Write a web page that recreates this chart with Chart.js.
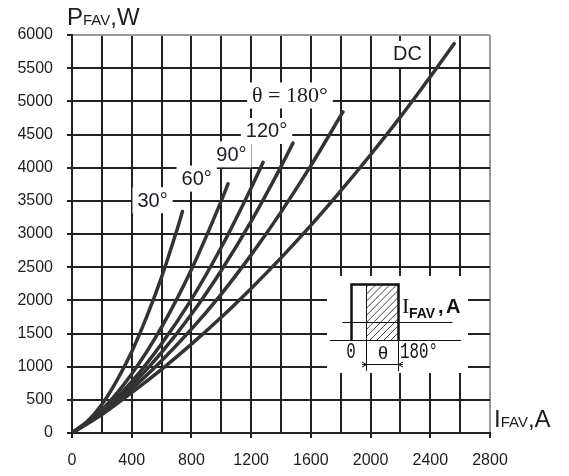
<!DOCTYPE html>
<html>
<head>
<meta charset="utf-8">
<script src="https://cdn.jsdelivr.net/npm/chart.js@4.4.1/dist/chart.umd.min.js"></script>
<style>
  html, body { margin: 0; padding: 0; background: #fff; }
  canvas { display: block; }
</style>
</head>
<body>
<canvas id="chart" width="569" height="476"></canvas>
<script>
// average current I_FAV (A) and power loss P_FAV (W)
const currentDC = [0, 200, 400, 600, 800, 1000, 1200, 1400, 1600, 1800, 2000, 2200, 2400, 2560];
const powerDC = [0, 280, 610, 960, 1340, 1745, 2180, 2640, 3130, 3650, 4195, 4765, 5370, 5870];

const current180 = [0, 200, 400, 600, 800, 1000, 1200, 1400, 1600, 1815];
const power180 = [0, 295, 665, 1090, 1565, 2095, 2685, 3330, 4030, 4840];

const current120 = [0, 200, 400, 600, 800, 1000, 1200, 1400, 1480];
const power120 = [0, 310, 720, 1215, 1790, 2450, 3190, 4015, 4370];

const current90 = [0, 200, 400, 600, 800, 1000, 1200, 1280];
const power90 = [0, 325, 775, 1345, 2015, 2800, 3695, 4080];

const current60 = [0, 200, 400, 600, 800, 1000, 1045];
const power60 = [0, 350, 890, 1595, 2465, 3500, 3755];

const current30 = [0, 100, 200, 300, 400, 500, 600, 700, 740];
const power30 = [0, 170, 430, 790, 1225, 1750, 2350, 3040, 3340];

const curveLabels = ['30°', '60°', '90°', '120°', 'θ = 180°', 'DC'];

const xTicks = [0, 400, 800, 1200, 1600, 2000, 2400, 2800];
const yTicks = [0, 500, 1000, 1500, 2000, 2500, 3000, 3500, 4000, 4500, 5000, 5500, 6000];

const LINE = '#333333';
const GRID = '#222222';
const EDGE = '#9a9a9a';
const TEXT = '#1c1c24';
const SANS = "'Liberation Sans', Arial, sans-serif";
const SERIF = "'Liberation Serif', 'Times New Roman', serif";
const MONO = "'Liberation Mono', 'Courier New', monospace";

const toPoints = (xs, ys) => xs.map((x, i) => ({ x, y: ys[i] }));

const series = [
    toPoints(current30, power30),
    toPoints(current60, power60),
    toPoints(current90, power90),
    toPoints(current120, power120),
    toPoints(current180, power180),
    toPoints(currentDC, powerDC),
];

// texte avec fond blanc (étiquettes des courbes)
const drawBoxedLabel = (ctx, text, cx, cy, font) => {
    ctx.font = font;
    const w = ctx.measureText(text).width;
    ctx.fillStyle = '#fff';
    ctx.fillRect(cx - w / 2 - 5, cy - 13, w + 10, 26);
    ctx.fillStyle = TEXT;
    ctx.textAlign = 'center';
    ctx.textBaseline = 'middle';
    ctx.fillText(text, cx, cy + 1);
};

// suite de morceaux de texte de tailles différentes (ex. P + FAV + ,W)
const drawRuns = (ctx, x, y, runs) => {
    ctx.textAlign = 'left';
    ctx.textBaseline = 'alphabetic';
    ctx.fillStyle = TEXT;
    runs.forEach(([text, font]) => {
        ctx.font = font;
        ctx.fillText(text, x, y);
        x += ctx.measureText(text).width;
    });
};

// petit schéma de l'impulsion rectangulaire
const drawInset = (ctx) => {
    ctx.save();
    ctx.fillStyle = '#fff';
    ctx.fillRect(327, 276, 141, 97);

    ctx.strokeStyle = '#111';
    ctx.lineWidth = 1;
    ctx.beginPath();
    ctx.moveTo(342.5, 322.5); ctx.lineTo(452.5, 322.5);
    ctx.moveTo(330, 340.5); ctx.lineTo(461, 340.5);
    ctx.moveTo(366.5, 284); ctx.lineTo(366.5, 371);
    ctx.moveTo(398.5, 340); ctx.lineTo(398.5, 371);
    ctx.moveTo(362, 364.5); ctx.lineTo(403, 364.5);
    ctx.stroke();

    // flèches de cote
    ctx.beginPath();
    ctx.moveTo(362, 362); ctx.lineTo(366.5, 364.5); ctx.lineTo(362, 367);
    ctx.moveTo(403, 362); ctx.lineTo(398.5, 364.5); ctx.lineTo(403, 367);
    ctx.stroke();

    // hachures
    ctx.save();
    ctx.beginPath();
    ctx.rect(366.5, 284, 32, 56.5);
    ctx.clip();
    ctx.lineWidth = 0.8;
    ctx.beginPath();
    for (let k = -60; k < 40; k += 7) {
        ctx.moveTo(366.5 + k, 340.5);
        ctx.lineTo(366.5 + k + 56, 284);
    }
    ctx.stroke();
    ctx.restore();

    ctx.lineWidth = 2.5;
    ctx.beginPath();
    ctx.moveTo(351.5, 340.5);
    ctx.lineTo(351.5, 284.5);
    ctx.lineTo(398.5, 284.5);
    ctx.lineTo(398.5, 340.5);
    ctx.stroke();

    ctx.fillStyle = '#111';
    ctx.textBaseline = 'alphabetic';
    ctx.textAlign = 'center';
    ctx.save();
    ctx.translate(351, 358);
    ctx.scale(0.72, 1);
    ctx.font = `22px ${MONO}`;
    ctx.fillText('0', 0, 0);
    ctx.restore();
    ctx.font = `18px ${SANS}`;
    ctx.fillText('θ', 383, 359);
    ctx.save();
    ctx.translate(400, 358);
    ctx.scale(0.72, 1);
    ctx.textAlign = 'left';
    ctx.font = `22px ${MONO}`;
    ctx.fillText('180°', 0, 0);
    ctx.restore();

    ctx.textAlign = 'left';
    ctx.font = `22px ${SERIF}`;
    ctx.fillText('I', 402, 313);
    ctx.font = `bold 14px ${SANS}`;
    ctx.fillText('FAV', 409, 318);
    ctx.font = `bold 20px ${SANS}`;
    ctx.fillText(',', 438, 313);
    ctx.fillText('A', 446, 313);
    ctx.restore();
};

const annotations = {
    id: 'annotations',
    beforeDatasetsDraw(chart) {
        const { ctx, scales: { x, y } } = chart;
        const anchors = [[540, 3510], [835, 3835], [1068, 4200], [1303, 4553], [1460, 5088], [2247, 5715]];
        ctx.save();
        curveLabels.forEach((text, i) => {
            const font = text.startsWith('θ') ? `22px ${SERIF}` : `20px ${SANS}`;
            drawBoxedLabel(ctx, text, x.getPixelForValue(anchors[i][0]), y.getPixelForValue(anchors[i][1]), font);
        });
        drawInset(ctx);
        ctx.restore();
    },
    afterDraw(chart) {
        const { ctx } = chart;
        ctx.save();
        drawRuns(ctx, 67, 25, [['P', `24px ${SANS}`], ['FAV', `15px ${SANS}`], [',W', `24px ${SANS}`]]);
        drawRuns(ctx, 494, 427, [['I', `24px ${SANS}`], ['FAV', `15px ${SANS}`], [',A', `24px ${SANS}`]]);
        ctx.restore();
    },
};

new Chart(document.getElementById('chart'), {
    type: 'line',
    data: {
        datasets: series.map((data, i) => ({
            label: curveLabels[i],
            data,
            borderColor: LINE,
            borderWidth: 3.5,
            pointRadius: 0,
            fill: false,
            cubicInterpolationMode: 'monotone',
            borderCapStyle: 'round',
        })),
    },
    options: {
        responsive: false,
        animation: false,
        layout: { padding: { top: 35, right: 79, left: 0, bottom: 0 } },
        plugins: { legend: { display: false }, tooltip: { enabled: false } },
        scales: {
            x: {
                type: 'linear',
                min: 0,
                max: 2800,
                afterFit: (scale) => { scale.height = 43; },
                ticks: {
                    stepSize: 200,
                    autoSkip: false,
                    maxRotation: 0,
                    padding: 13,
                    color: TEXT,
                    font: { family: SANS, size: 16 },
                    callback: (v) => (xTicks.includes(v) ? String(v) : ''),
                },
                grid: {
                    color: (c) => (c.tick && c.tick.value === 2800 ? EDGE : GRID),
                    lineWidth: 2,
                    tickLength: 5,
                    tickColor: (c) => (c.tick && xTicks.includes(c.tick.value) ? GRID : 'rgba(0,0,0,0)'),
                },
                border: { color: GRID, width: 2 },
            },
            y: {
                min: 0,
                max: 6000,
                afterFit: (scale) => { scale.width = 72; },
                ticks: {
                    stepSize: 500,
                    padding: 14,
                    color: TEXT,
                    font: { family: SANS, size: 16 },
                    callback: (v) => (yTicks.includes(v) ? String(v) : ''),
                },
                grid: {
                    color: (c) => (c.tick && c.tick.value === 6000 ? EDGE : GRID),
                    lineWidth: 2,
                    tickLength: 5,
                    tickColor: GRID,
                },
                border: { color: GRID, width: 2 },
            },
        },
    },
    plugins: [annotations],
});
</script>
</body>
</html>
